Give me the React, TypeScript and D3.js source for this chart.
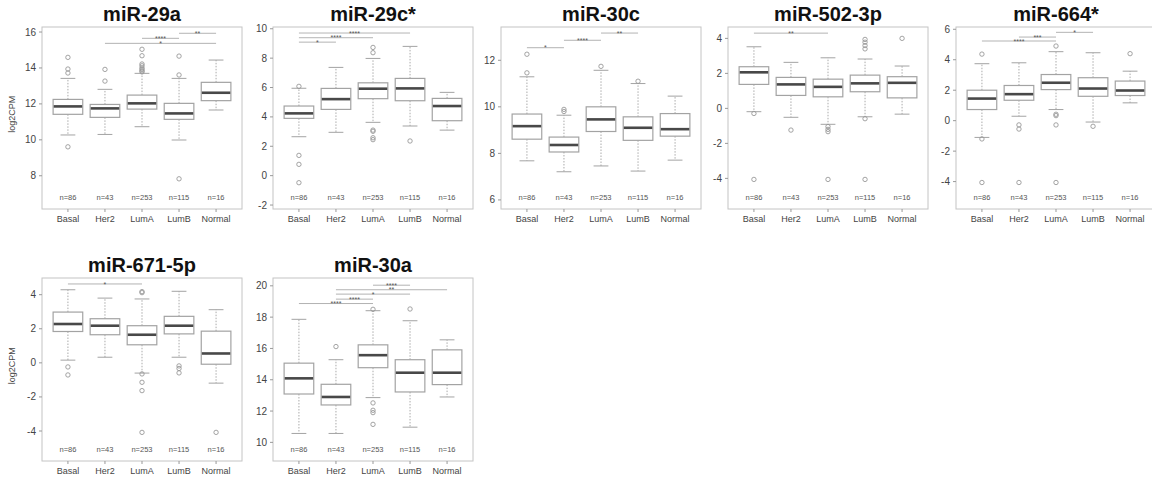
import React from "react";
import * as d3 from "d3";

// subtypes on the x axis and their sample sizes
const groups = ["Basal", "Her2", "LumA", "LumB", "Normal"];
const groupN = [86, 43, 253, 115, 16];

// box stats per group: [lowWhisker, q1, median, q3, highWhisker]
const mir29aStats = [
  [10.27, 11.42, 11.86, 12.25, 13.42],
  [10.3, 11.25, 11.75, 11.97, 12.81],
  [10.73, 11.71, 12.03, 12.49, 13.7],
  [9.99, 11.14, 11.47, 12.03, 13.42],
  [11.66, 12.18, 12.62, 13.2, 14.44],
];
const mir29aOut = [
  [14.59, 13.94, 13.72, 9.61],
  [13.92, 13.27],
  [15.04, 14.68, 14.22, 14.12, 14.0, 13.92, 13.84, 13.78],
  [14.66, 13.61, 7.83],
  [],
];
const mir29cStats = [
  [2.65, 3.9, 4.24, 4.74, 5.95],
  [2.95, 4.51, 5.21, 5.94, 7.37],
  [3.63, 5.24, 5.92, 6.32, 7.98],
  [3.38, 5.1, 5.94, 6.62, 8.8],
  [3.1, 3.74, 4.74, 5.26, 5.67],
];
const mir29cOut = [
  [6.08, 1.38, 0.77, -0.48],
  [],
  [8.73, 8.37, 3.1, 3.02, 2.58, 2.45],
  [2.36],
  [],
];
const mir30cStats = [
  [7.68, 8.61, 9.17, 9.69, 11.29],
  [7.21, 8.06, 8.36, 8.7, 9.64],
  [7.46, 8.94, 9.46, 10.0, 11.57],
  [7.24, 8.56, 9.1, 9.57, 11.0],
  [7.71, 8.74, 9.04, 9.71, 10.46],
];
const mir30cOut = [
  [12.26, 11.46],
  [9.89, 9.8],
  [11.74],
  [11.1],
  [],
];
const mir502Stats = [
  [-0.19, 1.37, 2.06, 2.38, 3.52],
  [-0.51, 0.74, 1.37, 1.77, 2.63],
  [-0.91, 0.66, 1.23, 1.67, 2.89],
  [-0.48, 0.95, 1.43, 1.9, 2.82],
  [-0.33, 0.6, 1.46, 1.81, 2.42],
];
const mir502Out = [
  [-0.29, -4.06],
  [-1.24],
  [-1.04, -1.2, -1.33, -4.06],
  [3.94, 3.78, 3.59, 3.4, -0.59, -4.06],
  [4.0],
];
const mir664Stats = [
  [-1.1, 0.73, 1.45, 2.0, 3.74],
  [0.29, 1.34, 1.74, 2.31, 3.8],
  [0.73, 2.04, 2.49, 3.03, 4.53],
  [-0.09, 1.6, 2.11, 2.82, 4.46],
  [1.17, 1.65, 1.98, 2.6, 3.25],
];
const mir664Out = [
  [4.37, -1.2, -4.06],
  [-0.28, -0.55, -4.06],
  [4.9, 0.42, 0.33, -0.28, -4.06],
  [-0.37],
  [4.4],
];
const mir671Stats = [
  [0.16, 1.84, 2.28, 2.98, 4.29],
  [0.33, 1.65, 2.18, 2.59, 3.8],
  [-0.6, 1.06, 1.65, 2.18, 3.75],
  [0.33, 1.7, 2.18, 2.73, 4.2],
  [-1.19, -0.08, 0.55, 1.86, 3.12],
];
const mir671Out = [
  [-0.24, -0.71],
  [],
  [4.18, 4.12, -0.65, -1.14, -1.63, -4.08],
  [-0.18, -0.33, -0.59],
  [-4.08],
];
const mir30aStats = [
  [10.57, 13.09, 14.09, 15.06, 17.86],
  [10.57, 12.39, 12.9, 13.71, 15.28],
  [12.86, 14.77, 15.57, 16.23, 18.41],
  [10.97, 13.22, 14.45, 15.28, 17.77],
  [12.9, 13.69, 14.45, 15.91, 16.55],
];
const mir30aOut = [
  [],
  [16.12],
  [18.5, 12.52, 12.05, 11.9, 11.15],
  [18.52],
  [],
];

// significance brackets: [fromGroup, toGroup, yValue, label]
const mir29aSig: [number, number, number, string][] = [
  [3, 4, 15.65, "****"],
  [4, 5, 15.93, "**"],
  [2, 5, 15.37, "*"],
];
const mir29cSig: [number, number, number, string][] = [
  [1, 2, 9.09, "*"],
  [1, 3, 9.39, "****"],
  [1, 4, 9.71, "****"],
];
const mir30cSig: [number, number, number, string][] = [
  [1, 2, 12.54, "*"],
  [2, 3, 12.86, "****"],
  [3, 4, 13.17, "**"],
];
const mir502Sig: [number, number, number, string][] = [[1, 3, 4.3, "**"]];
const mir664Sig: [number, number, number, string][] = [
  [1, 3, 5.23, "****"],
  [2, 3, 5.49, "***"],
  [3, 4, 5.8, "*"],
];
const mir671Sig: [number, number, number, string][] = [[1, 3, 4.63, "*"]];
const mir30aSig: [number, number, number, string][] = [
  [1, 3, 18.87, "****"],
  [2, 3, 19.15, "****"],
  [2, 4, 19.47, "*"],
  [2, 5, 19.75, "**"],
  [3, 4, 20.04, "****"],
];

const panelTitles = ["miR-29a", "miR-29c*", "miR-30c", "miR-502-3p", "miR-664*", "miR-671-5p", "miR-30a"];
const yDomains: [number, number][] = [
  [6.15, 16.28],
  [-2.27, 10.12],
  [5.61, 13.43],
  [-5.75, 4.65],
  [-5.8, 6.15],
  [-5.76, 4.98],
  [8.81, 20.5],
];
const yTicks = [
  [8, 10, 12, 14, 16],
  [-2, 0, 2, 4, 6, 8, 10],
  [6, 8, 10, 12],
  [-4, -2, 0, 2, 4],
  [-4, -2, 0, 2, 4, 6],
  [-4, -2, 0, 2, 4],
  [10, 12, 14, 16, 18, 20],
];

const panelStats = [mir29aStats, mir29cStats, mir30cStats, mir502Stats, mir664Stats, mir671Stats, mir30aStats];
const panelOut = [mir29aOut, mir29cOut, mir30cOut, mir502Out, mir664Out, mir671Out, mir30aOut];
const panelSig = [mir29aSig, mir29cSig, mir30cSig, mir502Sig, mir664Sig, mir671Sig, mir30aSig];

// layout
const W = 1152;
const H = 483;
const PW = 200;
const lefts = [42, 273, 501, 728, 956, 42, 273];
const tops = [27, 27, 27, 27, 27, 278, 278];
const heights = [182, 182, 182, 182, 182, 183, 183];
const FONT = "'Liberation Sans', Arial, sans-serif";

const BOX = "#a3a3a3";
const MED = "#484848";
const TXT = "#444";

type PanelProps = { idx: number };

const Panel = ({ idx }: PanelProps) => {
  const left = lefts[idx];
  const top = tops[idx];
  const h = heights[idx];
  const bottom = top + h;
  const x = d3.scaleLinear().domain([0.3, 5.7]).range([left, left + PW]);
  const y = d3.scaleLinear().domain(yDomains[idx]).range([bottom, top]);
  const bw = x(0.8) - x(0);
  const cw = bw / 2;
  const stats = panelStats[idx];
  const outs = panelOut[idx];
  const sig = panelSig[idx];

  return (
    <g>
      <rect x={left} y={top} width={PW} height={h} fill="none" stroke="#c4c4c4" strokeWidth={1} />
      <text x={left + PW / 2} y={top - 6} textAnchor="middle" fontFamily={FONT} fontWeight="bold" fontSize={20} fill="#111">
        {panelTitles[idx]}
      </text>
      {idx === 0 || idx === 5 ? (
        <text
          transform={`translate(15,${top + h * 0.48}) rotate(-90)`}
          textAnchor="middle"
          fontFamily={FONT}
          fontSize={9}
          fill={TXT}
        >
          log2CPM
        </text>
      ) : null}
      {yTicks[idx].map((t) => (
        <g key={"yt" + t}>
          <line x1={left - 3} x2={left} y1={y(t)} y2={y(t)} stroke="#999" />
          <text x={left - 6} y={y(t)} dy="0.35em" textAnchor="end" fontFamily={FONT} fontSize={10} fill={TXT}>
            {t}
          </text>
        </g>
      ))}
      {groups.map((g, i) => {
        const cx = x(i + 1);
        const [lo, q1, med, q3, hi] = stats[i];
        return (
          <g key={g}>
            <line x1={cx} x2={cx} y1={bottom} y2={bottom + 3} stroke="#999" />
            <text x={cx} y={bottom + 13} textAnchor="middle" fontFamily={FONT} fontSize={9} fill={TXT}>
              {g}
            </text>
            <text x={cx} y={bottom - 12} dy="0.35em" textAnchor="middle" fontFamily={FONT} fontSize={7.5} fill="#555">
              {"n=" + groupN[i]}
            </text>
            <line x1={cx} x2={cx} y1={y(q1)} y2={y(lo)} stroke="#aaa" strokeDasharray="1.5,1.5" />
            <line x1={cx} x2={cx} y1={y(q3)} y2={y(hi)} stroke="#aaa" strokeDasharray="1.5,1.5" />
            <line x1={cx - cw / 2} x2={cx + cw / 2} y1={y(lo)} y2={y(lo)} stroke={BOX} />
            <line x1={cx - cw / 2} x2={cx + cw / 2} y1={y(hi)} y2={y(hi)} stroke={BOX} />
            <rect x={cx - bw / 2} y={y(q3)} width={bw} height={y(q1) - y(q3)} fill="#fff" stroke={BOX} strokeWidth={1.2} />
            <line x1={cx - bw / 2 + 0.6} x2={cx + bw / 2 - 0.6} y1={y(med)} y2={y(med)} stroke={MED} strokeWidth={2.6} />
            {outs[i].map((o, k) => (
              <circle key={k} cx={cx} cy={y(o)} r={2.2} fill="none" stroke="#999" strokeWidth={0.9} />
            ))}
          </g>
        );
      })}
      {sig.map(([a, b, v, lab], k) => (
        <g key={"s" + k}>
          <line x1={x(a)} x2={x(b)} y1={y(v)} y2={y(v)} stroke="#aaa" strokeWidth={0.9} />
          <text x={(x(a) + x(b)) / 2} y={y(v) + 2.6} textAnchor="middle" fontFamily={FONT} fontSize={7} fill="#555">
            {lab}
          </text>
        </g>
      ))}
    </g>
  );
};

export default function App() {
  return (
    <div style={{ position: "absolute", left: 0, top: 0, width: W, height: H, background: "#fff", overflow: "hidden" }}>
      <svg width={W} height={H} viewBox={`0 0 ${W} ${H}`}>
        <rect width={W} height={H} fill="#fff" />
        {panelTitles.map((_, i) => (
          <Panel key={i} idx={i} />
        ))}
      </svg>
    </div>
  );
}
